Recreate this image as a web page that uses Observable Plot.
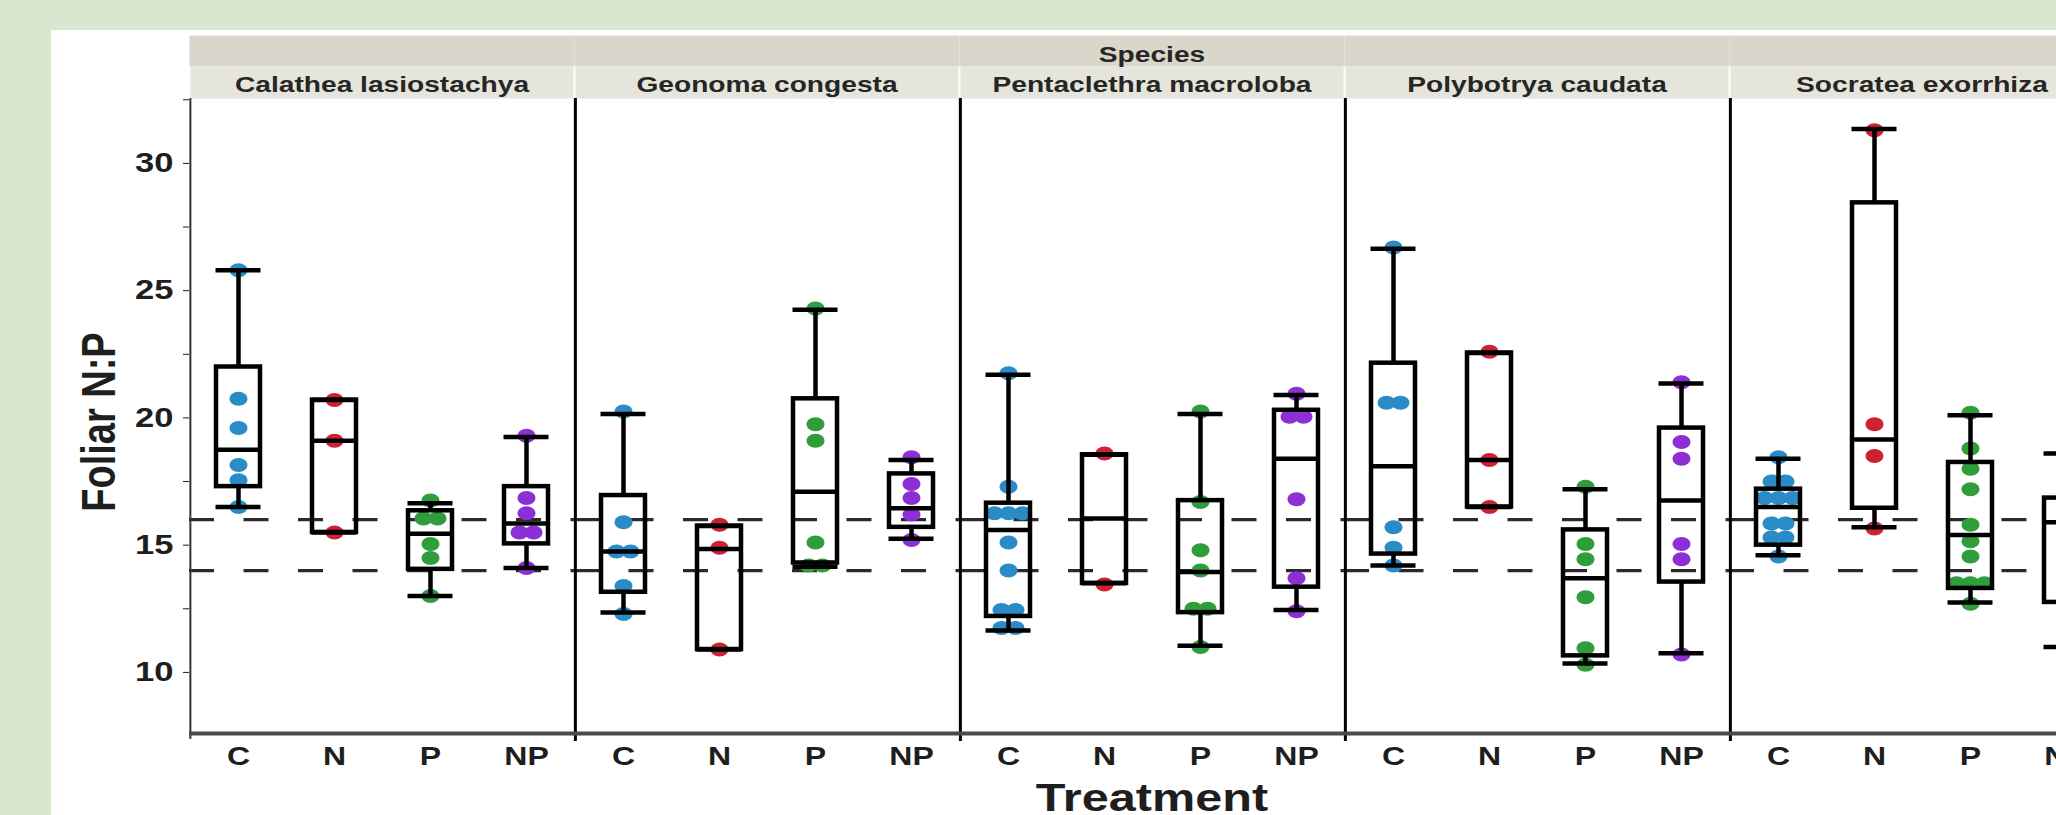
<!DOCTYPE html>
<html>
<head>
<meta charset="utf-8">
<script src="https://cdn.jsdelivr.net/npm/d3@7"></script>
<script src="https://cdn.jsdelivr.net/npm/@observablehq/plot@0.6"></script>
<style>
html, body { margin: 0; padding: 0; }
body { width: 2056px; height: 815px; overflow: hidden; background: #d8e8cf; position: relative;
       font-family: "Liberation Sans", Arial, sans-serif; }
#card { position: absolute; left: 51px; top: 30px; right: 0; bottom: 0; background: #ffffff; }
#chart { position: absolute; left: 0; top: 0; }
#chart g[aria-label="y-axis tick"] { stroke: #b4b4b4; }
#chart g[aria-label="y-axis tick label"] { font-size: 27px; }
</style>
</head>
<body>
<div id="card"></div>
<div id="chart"></div>
<script>
// ---------- data ----------
const species = ["Calathea lasiostachya", "Geonoma congesta", "Pentaclethra macroloba", "Polybotrya caudata", "Socratea exorrhiza"];
const treatments = ["C", "N", "P", "NP"];
const treatmentColors = ["#2a8cc6", "#cf2231", "#2f9d3b", "#8c2fd4"];
const yTickLabels = [10, 15, 20, 25, 30];
const yMinorTicks = [12.5, 17.5, 22.5, 27.5, 32.5];
const referenceLines = [14, 16];
const facetTitle = "Species";
const xTitle = "Treatment";
const yTitle = "Foliar N:P";

// box statistics per treatment (C, N, P, NP): [low whisker, Q1, median, Q3, high whisker]
const calatheaBox     = [[16.5, 17.3, 18.75, 22.0, 25.8], [15.5, 15.5, 19.1, 20.7, 20.7], [13.0, 14.05, 15.45, 16.35, 16.65], [14.1, 15.05, 15.85, 17.3, 19.25]];
const geonomaBox      = [[12.35, 13.15, 14.75, 16.95, 20.15], [10.9, 10.9, 14.85, 15.75, 15.75], [14.15, 14.3, 17.1, 20.75, 24.25], [15.25, 15.7, 16.45, 17.8, 18.35]];
const pentaclethraBox = [[11.65, 12.2, 15.6, 16.65, 21.7], [13.5, 13.5, 16.05, 18.55, 18.55], [11.05, 12.35, 13.95, 16.75, 20.15], [12.45, 13.35, 18.4, 20.3, 20.9]];
const polybotryaBox   = [[14.2, 14.65, 18.1, 22.15, 26.65], [16.5, 16.5, 18.35, 22.55, 22.55], [10.35, 10.65, 13.7, 15.6, 17.2], [10.75, 13.55, 16.75, 19.6, 21.35]];
const socrateaBox     = [[14.6, 15.0, 16.5, 17.2, 18.4], [15.7, 16.45, 19.15, 28.45, 31.35], [12.75, 13.3, 15.4, 18.25, 20.1], [11.0, 12.75, 15.9, 16.85, 18.6]];

// individual observations per treatment (C, N, P, NP)
const calatheaPoints = [
  [25.8, 20.75, 19.6, 18.15, 17.55, 16.5],
  [20.7, 19.1, 15.5],
  [16.75, 16.05, 16.05, 15.05, 14.5, 13.0],
  [19.3, 16.85, 16.25, 15.5, 15.5, 14.1]
];
const geonomaPoints = [
  [20.25, 15.9, 14.75, 14.75, 13.4, 12.3],
  [15.8, 14.9, 10.9],
  [24.3, 19.75, 19.1, 15.1, 14.2, 14.2],
  [18.45, 17.4, 16.85, 16.2, 15.2]
];
const pentaclethraPoints = [
  [21.75, 17.3, 16.25, 16.25, 16.25, 15.1, 14.0, 12.45, 12.45, 11.75, 11.75],
  [18.6, 13.45],
  [20.25, 16.7, 14.8, 14.0, 12.5, 12.5, 11.0],
  [20.95, 20.05, 20.05, 16.8, 13.7, 12.4]
];
const polybotryaPoints = [
  [26.7, 20.6, 20.6, 15.7, 14.9, 14.2],
  [22.6, 18.35, 16.5],
  [17.3, 15.05, 14.45, 12.95, 10.95, 10.3],
  [21.4, 19.05, 18.4, 15.05, 14.45, 10.7]
];
const socrateaPoints = [
  [18.45, 17.5, 17.5, 16.85, 16.85, 16.85, 15.85, 15.85, 15.3, 15.3, 14.55],
  [31.3, 19.75, 18.5, 15.65],
  [20.2, 18.8, 18.0, 17.2, 15.8, 15.15, 14.55, 13.5, 13.5, 13.5, 12.7],
  [16.9, 15.75, 13.6, 12.0, 11.0]
];

// ---------- build tables ----------
const boxSets = [calatheaBox, geonomaBox, pentaclethraBox, polybotryaBox, socrateaBox];
const pointSets = [calatheaPoints, geonomaPoints, pentaclethraPoints, polybotryaPoints, socrateaPoints];
const boxes = [];
const points = [];
const spread = 14;
species.forEach((s, i) => treatments.forEach((t, j) => {
  const [lo, q1, med, q3, hi] = boxSets[i][j];
  boxes.push({species: s, treatment: t, lo, q1, med, q3, hi});
  const vals = pointSets[i][j];
  const counts = d3.rollup(vals, v => v.length, d => d);
  const seen = new Map();
  vals.forEach(v => {
    const n = counts.get(v), k = seen.get(v) || 0;
    seen.set(v, k + 1);
    points.push({species: s, treatment: t, value: v, offset: (k - (n - 1) / 2) * spread});
  });
}));
const offsets = Array.from(new Set(points.map(d => d.offset)));

// slightly wide elliptical dot, like the reference
const ellipse = {
  draw(ctx, size) {
    const r = Math.sqrt(size / Math.PI), rx = r * 1.28, ry = r, k = 0.5523;
    ctx.moveTo(rx, 0);
    ctx.bezierCurveTo(rx, ry * k, rx * k, ry, 0, ry);
    ctx.bezierCurveTo(-rx * k, ry, -rx, ry * k, -rx, 0);
    ctx.bezierCurveTo(-rx, -ry * k, -rx * k, -ry, 0, -ry);
    ctx.bezierCurveTo(rx * k, -ry, rx, -ry * k, rx, 0);
    ctx.closePath();
  }
};

const yDomain = [7.6, 32.55];
const frameH = 815 - 98 - 82;
const halfStep = 385 / 8;
const lw = 4.5;

const chart = Plot.plot({
  width: 2114,
  height: 815,
  marginLeft: 189,
  marginRight: 0,
  marginTop: 98,
  marginBottom: 82,
  style: {
    fontFamily: '"Liberation Sans", Arial, sans-serif',
    fontWeight: "bold",
    fontSize: "25px",
    color: "#1e1e1e",
    background: "none",
    maxWidth: "none",
    overflow: "visible"
  },
  fx: {domain: species, padding: 0, axis: null},
  x: {domain: treatments, padding: 0, tickSize: 0, tickPadding: 14, label: null},
  y: {
    domain: yDomain,
    ticks: [...yTickLabels, ...yMinorTicks].sort((a, b) => a - b),
    tickFormat: d => yTickLabels.includes(d) ? String(d) : "",
    tickSize: 6, tickPadding: 10, label: null
  },
  color: {domain: treatments, range: treatmentColors},
  marks: [
    // strip header
    Plot.frame({fill: "#d9d7cb", stroke: "none", insetTop: -63, insetBottom: frameH + 32}),
    Plot.frame({fill: "#e6e5dc", stroke: "none", insetTop: -32, insetBottom: frameH, insetLeft: 1, insetRight: 1}),
    Plot.text(species, {fx: d => d, text: d => d, frameAnchor: "top", lineAnchor: "middle", dy: -14, fontSize: 22, fill: "#262626"}),
    Plot.text([species[2]], {fx: d => d, text: () => facetTitle, frameAnchor: "top", lineAnchor: "middle", dy: -44, fontSize: 22, fill: "#262626"}),
    // reference lines
    Plot.ruleY(referenceLines, {stroke: "#2a2a2a", strokeWidth: 3.2, strokeDasharray: "25,29.5"}),
    // observations
    ...offsets.map(o => Plot.dot(points.filter(d => d.offset === o), {
      fx: "species", x: "treatment", y: "value", fill: "treatment", r: 7, symbol: ellipse, dx: o
    })),
    // box plots
    Plot.ruleX(boxes, {fx: "species", x: "treatment", y1: "q3", y2: "hi", stroke: "#000", strokeWidth: lw}),
    Plot.ruleX(boxes, {fx: "species", x: "treatment", y1: "lo", y2: "q1", stroke: "#000", strokeWidth: lw}),
    Plot.barY(boxes, {fx: "species", x: "treatment", y1: "q1", y2: "q3", insetLeft: 26, insetRight: 26, fill: "none", stroke: "#000", strokeWidth: lw}),
    Plot.tickY(boxes, {fx: "species", x: "treatment", y: "med", insetLeft: 26, insetRight: 26, stroke: "#000", strokeWidth: lw}),
    Plot.tickY(boxes, {fx: "species", x: "treatment", y: "hi", insetLeft: 25.5, insetRight: 25.5, stroke: "#000", strokeWidth: lw}),
    Plot.tickY(boxes, {fx: "species", x: "treatment", y: "lo", insetLeft: 25.5, insetRight: 25.5, stroke: "#000", strokeWidth: lw}),
    // panel borders and axes
    Plot.ruleX(species.slice(1), {fx: d => d, x: () => treatments[0], dx: -halfStep, stroke: "#000", strokeWidth: 3, insetBottom: -8}),
    Plot.ruleX([species[0]], {fx: d => d, x: () => treatments[0], dx: -halfStep, stroke: "#333", strokeWidth: 2, insetBottom: -6}),
    Plot.ruleY([yDomain[0]], {stroke: "#4a4a4a", strokeWidth: 4}),
    // axis titles
    Plot.text([species[2]], {fx: d => d, text: () => xTitle, frameAnchor: "bottom", lineAnchor: "middle", dy: 65, fontSize: 38, fill: "#1e1e1e"}),
    Plot.text([species[0]], {fx: d => d, text: () => yTitle, frameAnchor: "left", textAnchor: "middle", lineAnchor: "middle", rotate: -90, dx: -90, dy: 6, fontSize: 38, fill: "#1e1e1e"})
  ]
});

// the reference lettering is horizontally widened; widen every label about its own anchor
chart.querySelectorAll("text").forEach(t => {
  const tr = t.getAttribute("transform") || "";
  if (tr.includes("rotate")) {
    t.setAttribute("transform", tr.replace("rotate", "scale(1.28,1) rotate"));
  } else {
    const x = parseFloat(t.getAttribute("x")) || 0;
    t.setAttribute("transform", `${tr} translate(${x},0) scale(1.28,1) translate(${-x},0)`);
  }
});

document.getElementById("chart").appendChild(chart);
</script>
</body>
</html>
